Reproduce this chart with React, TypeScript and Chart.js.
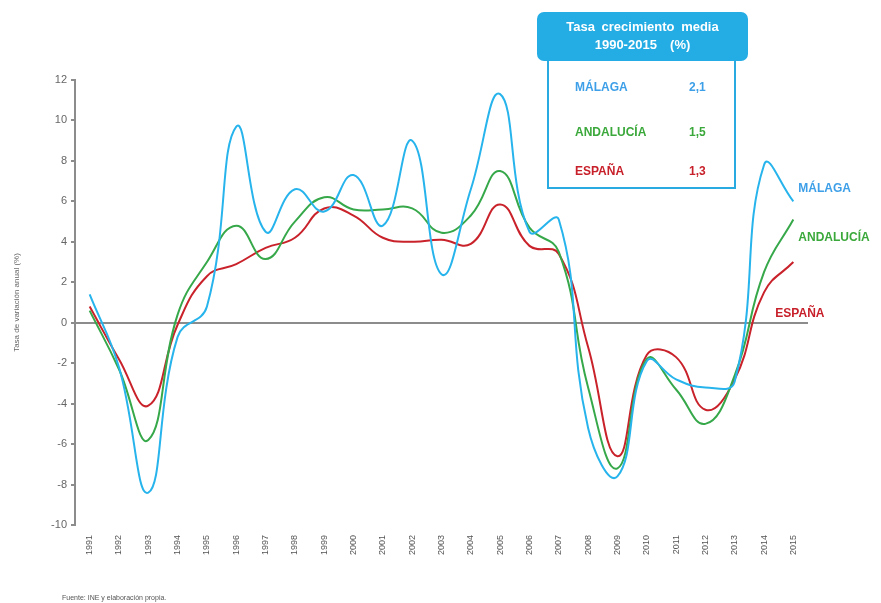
import React, { useEffect, useRef } from "react";
import { Chart, registerables } from "chart.js";

Chart.register(...registerables);

const years = ["1991","1992","1993","1994","1995","1996","1997","1998","1999","2000","2001","2002","2003","2004","2005","2006","2007","2008","2009","2010","2011","2012","2013","2014","2015"];
const malaga = [1.4, -2.2, -8.4, -0.7, 0.8, 9.7, 4.5, 6.6, 5.5, 7.3, 4.8, 9.0, 2.4, 6.6, 11.3, 4.5, 5.1, -5.2, -7.6, -1.9, -2.8, -3.2, -2.9, 7.8, 6.0];
const andalucia = [0.6, -2.3, -5.8, 0.4, 3.0, 4.8, 3.15, 5.0, 6.2, 5.6, 5.6, 5.65, 4.45, 5.3, 7.5, 4.7, 3.5, -3.2, -7.2, -1.8, -3.3, -5.0, -2.6, 2.5, 5.1];
const espana = [0.8, -1.8, -4.1, -0.1, 2.3, 2.9, 3.7, 4.2, 5.65, 5.3, 4.2, 4.0, 4.1, 3.9, 5.85, 3.8, 3.4, -1.2, -6.6, -1.6, -1.7, -4.3, -2.8, 1.5, 3.0];
const seriesNames = ["MÁLAGA", "ANDALUCÍA", "ESPAÑA"];
const mediaValues = ["2,1", "1,5", "1,3"];
const endLabelValues = [6.65, 4.2, 0.45];
const yTicks = { min: -10, max: 12, step: 2 };

const colors = ["#27b4ec", "#36a84a", "#c9222b"];
const textColors = ["#3d9fe8", "#3aa83a", "#c8202a"];

export default function App() {
  const ref = useRef<HTMLCanvasElement | null>(null);

  useEffect(() => {
    document.body.style.margin = "0";
    if (!ref.current) return;
    const endLabels = {
      id: "endLabels",
      afterDatasetsDraw(chart: any) {
        const { ctx, scales } = chart;
        const x = scales.x;
        const y = scales.y;
        const last = years.length - 1;
        const offs = [5, 5, -18];
        ctx.save();
        ctx.font = "bold 12px 'Liberation Sans', Arial, sans-serif";
        ctx.textBaseline = "middle";
        ctx.textAlign = "left";
        seriesNames.forEach((n, i) => {
          ctx.fillStyle = textColors[i];
          ctx.fillText(n, x.getPixelForValue(last) + offs[i], y.getPixelForValue(endLabelValues[i]));
        });
        ctx.restore();
      },
    };
    const chart = new Chart(ref.current, {
      type: "line",
      data: {
        labels: years,
        datasets: [
          { label: seriesNames[0], data: malaga, borderColor: colors[0] },
          { label: seriesNames[1], data: andalucia, borderColor: colors[1] },
          { label: seriesNames[2], data: espana, borderColor: colors[2] },
        ].map((d) => ({ ...d, borderWidth: 2, pointRadius: 0, tension: 0.45, fill: false })),
      },
      options: {
        animation: false,
        responsive: false,
        layout: { padding: { left: 0, top: 80, right: 73, bottom: 0 } },
        plugins: { legend: { display: false }, tooltip: { enabled: false } },
        scales: {
          x: {
            offset: true,
            grid: { display: false },
            border: { display: false },
            ticks: {
              autoSkip: false,
              maxRotation: 90,
              minRotation: 90,
              padding: 2,
              color: "#555",
              font: { size: 9, family: "'Liberation Sans', Arial, sans-serif" },
            },
            afterFit: (s: any) => { s.height = 78; },
          },
          y: {
            min: yTicks.min,
            max: yTicks.max,
            ticks: {
              stepSize: yTicks.step,
              padding: 4,
              color: "#666",
              font: { size: 11, family: "'Liberation Sans', Arial, sans-serif" },
            },
            grid: {
              color: (c: any) => (c.tick && c.tick.value === 0 ? "#8c8c8c" : "rgba(0,0,0,0)"),
              lineWidth: 2,
              tickColor: "#8c8c8c",
              tickLength: 4,
              drawTicks: true,
            },
            border: { display: true, color: "#8c8c8c", width: 2 },
            title: {
              display: true,
              text: "Tasa de variación anual (%)",
              color: "#666",
              font: { size: 8, family: "'Liberation Sans', Arial, sans-serif" },
              padding: { top: 12, bottom: 0 },
            },
            afterFit: (s: any) => { s.width = 75; },
          },
        },
      },
      plugins: [endLabels],
    });
    return () => chart.destroy();
  }, []);

  const font = "'Liberation Sans', Arial, sans-serif";
  return (
    <div style={{ position: "relative", width: 881, height: 603, fontFamily: font, background: "#fff" }}>
      <canvas ref={ref} width={881} height={603} style={{ position: "absolute", left: 0, top: 0 }} />
      <div style={{ position: "absolute", left: 547, top: 58, width: 185, height: 127, border: "2px solid #29abe2", background: "#fff" }}>
        {seriesNames.map((n, i) => (
          <div key={n} style={{ position: "absolute", left: 26, top: [20, 65, 104][i], width: 160, fontWeight: "bold", fontSize: 12, color: textColors[i] }}>
            <span>{n}</span>
            <span style={{ position: "absolute", left: 114 }}>{mediaValues[i]}</span>
          </div>
        ))}
      </div>
      <div style={{ position: "absolute", left: 537, top: 12, width: 211, height: 49, background: "#24ace4", borderRadius: 7, color: "#fff", fontWeight: "bold", fontSize: 13, textAlign: "center", lineHeight: "18px", paddingTop: 6, boxSizing: "border-box", wordSpacing: 3 }}>
        <div>Tasa crecimiento media</div>
        <div>1990-2015 &nbsp;(%)</div>
      </div>
      <div style={{ position: "absolute", left: 62, top: 594, fontSize: 7, color: "#555" }}>Fuente: INE y elaboración propia.</div>
    </div>
  );
}
